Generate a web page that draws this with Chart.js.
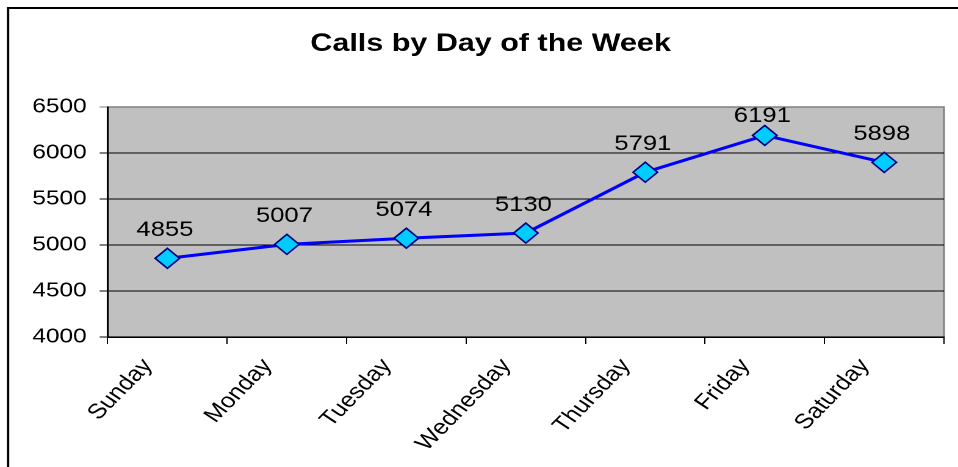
<!DOCTYPE html>
<html>
<head>
<meta charset="utf-8">
<script src="https://cdn.jsdelivr.net/npm/chart.js@4/dist/chart.umd.min.js"></script>
<style>
    html, body { margin: 0; padding: 0; background: #fff; overflow: hidden; }
    /* the original picture is stretched sideways, so the canvas is too */
    #wrap { width: 785px; height: 467px; transform: scaleX(1.2204); transform-origin: 0 0; }
</style>
</head>
<body>
<div id="wrap"><canvas id="calls" width="785" height="467"></canvas></div>
<script>
const days = ['Sunday', 'Monday', 'Tuesday', 'Wednesday', 'Thursday', 'Friday', 'Saturday'];
const calls = [4855, 5007, 5074, 5130, 5791, 6191, 5898];
const yTicks = [4000, 4500, 5000, 5500, 6000, 6500];

const fontFamily = '"Liberation Sans", Arial, sans-serif';

// outer frame + grey plot background
const frame = {
    id: 'frame',
    beforeDraw(chart) {
        const ctx = chart.ctx;
        const a = chart.chartArea;
        ctx.save();
        ctx.fillStyle = '#c0c0c0';
        ctx.fillRect(a.left, a.top, a.right - a.left, a.bottom - a.top);
        ctx.strokeStyle = '#808080';
        ctx.lineWidth = 1.5;
        ctx.strokeRect(a.left, a.top, a.right - a.left, a.bottom - a.top);
        ctx.strokeStyle = '#000';
        ctx.lineWidth = 2;
        ctx.beginPath();
        ctx.moveTo(6.6, 470);
        ctx.lineTo(6.6, 8);
        ctx.lineTo(800, 8);
        ctx.stroke();
        ctx.restore();
    }
}

// value labels above the markers
const valueLabels = {
    id: 'valueLabels',
    afterDatasetsDraw(chart) {
        const ctx = chart.ctx;
        const meta = chart.getDatasetMeta(0);
        ctx.save();
        ctx.font = '21px ' + fontFamily;
        ctx.fillStyle = '#000';
        ctx.textAlign = 'center';
        ctx.textBaseline = 'middle';
        meta.data.forEach((pt, i) => {
            const y = Math.max(pt.y - 28, chart.chartArea.top + 9);
            ctx.fillText(String(calls[i]), pt.x - 2, y);
        });
        ctx.restore();
    }
}

new Chart(document.getElementById('calls'), {
    type: 'line',
    data: {
        labels: days,
        datasets: [{
            label: 'Calls',
            data: calls,
            borderColor: '#0000ff',
            borderWidth: 3,
            tension: 0,
            pointStyle: 'rectRot',
            pointRadius: 10,
            pointBackgroundColor: '#00ccff',
            pointBorderColor: '#000080',
            pointBorderWidth: 1.5
        }]
    },
    options: {
        responsive: false,
        devicePixelRatio: 2,
        animation: false,
        events: [],
        layout: { padding: { left: 25, right: 6, top: 0, bottom: 0 } },
        plugins: {
            legend: { display: false },
            tooltip: { enabled: false },
            title: {
                display: true,
                text: 'Calls by Day of the Week',
                color: '#000',
                font: { family: fontFamily, size: 25, weight: 'bold' },
                padding: { top: 29, bottom: 48 }
            }
        },
        scales: {
            x: {
                offset: true,
                grid: { offset: true, drawOnChartArea: false, drawTicks: true, tickLength: 7, color: '#000' },
                border: { color: '#000', width: 1.5 },
                ticks: {
                    color: '#000',
                    font: { family: fontFamily, size: 21 },
                    // 51 deg here shows as ~45 deg once the canvas is stretched
                    minRotation: 51,
                    maxRotation: 51,
                    autoSkip: false,
                    labelOffset: -16,
                    padding: 10
                },
                afterFit: s => { s.height = 130; }
            },
            y: {
                min: yTicks[0],
                max: yTicks[yTicks.length - 1],
                afterBuildTicks: s => { s.ticks = yTicks.map(v => ({ value: v })); },
                grid: {
                    color: ctx => ctx.tick && ctx.tick.value === 6500 ? '#808080' : '#000',
                    tickLength: 6.6,
                    lineWidth: 1
                },
                border: { color: '#000', width: 1.5 },
                ticks: {
                    color: '#000',
                    font: { family: fontFamily, size: 20 },
                    padding: 10.6,
                    callback: v => String(v)
                },
                afterFit: s => { s.width = 63.2; }
            }
        }
    },
    plugins: [frame, valueLabels]
});
</script>
</body>
</html>
